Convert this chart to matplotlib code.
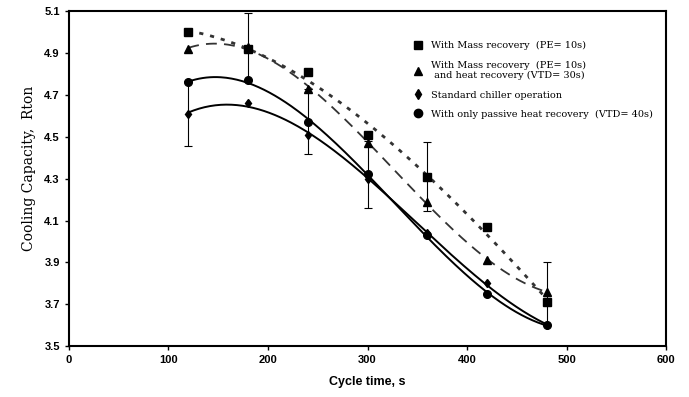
import numpy as np
import matplotlib
matplotlib.use("Agg")
import matplotlib.pyplot as plt
from matplotlib.lines import Line2D

cycle_time = [120, 180, 240, 300, 360, 420, 480]
mass_rec = [5.00, 4.92, 4.81, 4.51, 4.31, 4.07, 3.71]
mass_heat_rec = [4.92, 4.93, 4.73, 4.47, 4.19, 3.91, 3.76]
standard = [4.61, 4.66, 4.51, 4.30, 4.04, 3.80, 3.60]
passive = [4.76, 4.77, 4.57, 4.32, 4.03, 3.75, 3.60]

# error bars: (x, center, half-width)
err_x = [120, 180, 240, 300, 360, 480]
err_y = [4.61, 4.93, 4.575, 4.32, 4.31, 3.75]
err_h = [0.155, 0.16, 0.155, 0.16, 0.165, 0.15]

labels = ["With Mass recovery  (PE= 10s)",
          "With Mass recovery  (PE= 10s)\n and heat recovery (VTD= 30s)",
          "Standard chiller operation",
          "With only passive heat recovery  (VTD= 40s)"]

fig = plt.figure(figsize=(6.89, 3.97), dpi=100)
ax = fig.add_axes([0.100, 0.128, 0.867, 0.844])

x = np.array(cycle_time, float)
xs = np.linspace(120, 480, 200)

def trend(y, deg=3):
    p = np.polyfit(x, np.array(y), deg)
    return np.polyval(p, xs)

ax.plot(xs, trend(mass_rec), color='#333333', lw=2.0, ls=(0, (1.5, 2.5)))
ax.plot(xs, trend(mass_heat_rec), color='#333333', lw=1.3, ls=(0, (6, 4)))
ax.plot(xs, trend(standard), color='black', lw=1.4)
ax.plot(xs, trend(passive), color='black', lw=1.4)

ax.errorbar(err_x, err_y, yerr=err_h, fmt='none', ecolor='black',
            elinewidth=0.8, capsize=3, capthick=0.8)

ax.plot(cycle_time, mass_rec, 's', color='black', ms=5.5)
ax.plot(cycle_time, mass_heat_rec, '^', color='black', ms=5.5)
ax.plot(cycle_time, standard, 'd', color='black', ms=4.5)
ax.plot(cycle_time, passive, 'o', color='black', ms=5.5)

ax.set_xlim(0, 600)
ax.set_ylim(3.5, 5.1)
ax.set_xticks(np.arange(0, 601, 100))
ax.set_yticks(np.arange(3.5, 5.11, 0.2))
ax.set_yticklabels([f"{v:.1f}" for v in np.arange(3.5, 5.11, 0.2)])
for lab in ax.get_xticklabels() + ax.get_yticklabels():
    lab.set_fontweight('bold')
    lab.set_fontsize(8)
    lab.set_family('Liberation Sans')
ax.tick_params(direction='out', length=3, width=1)
for s in ax.spines.values():
    s.set_linewidth(1.5)

ax.set_xlabel("Cycle time, s", fontsize=9, family='Liberation Sans', fontweight='bold', labelpad=8)
ax.set_ylabel("Cooling Capacity,  Rton", fontsize=10, family='DejaVu Serif')
ax.yaxis.set_label_coords(-0.055, 0.53)

handles = [Line2D([], [], marker='s', ls='none', color='black', ms=5.5),
           Line2D([], [], marker='^', ls='none', color='black', ms=5.5),
           Line2D([], [], marker='d', ls='none', color='black', ms=5),
           Line2D([], [], marker='o', ls='none', color='black', ms=6)]
ax.legend(handles, labels, loc='upper left', bbox_to_anchor=(0.562, 0.936),
          frameon=False, prop={'family': 'DejaVu Serif', 'size': 7},
          handlelength=1.0, handletextpad=0.85, labelspacing=1.05)

fig.savefig("out.png", dpi=100)
